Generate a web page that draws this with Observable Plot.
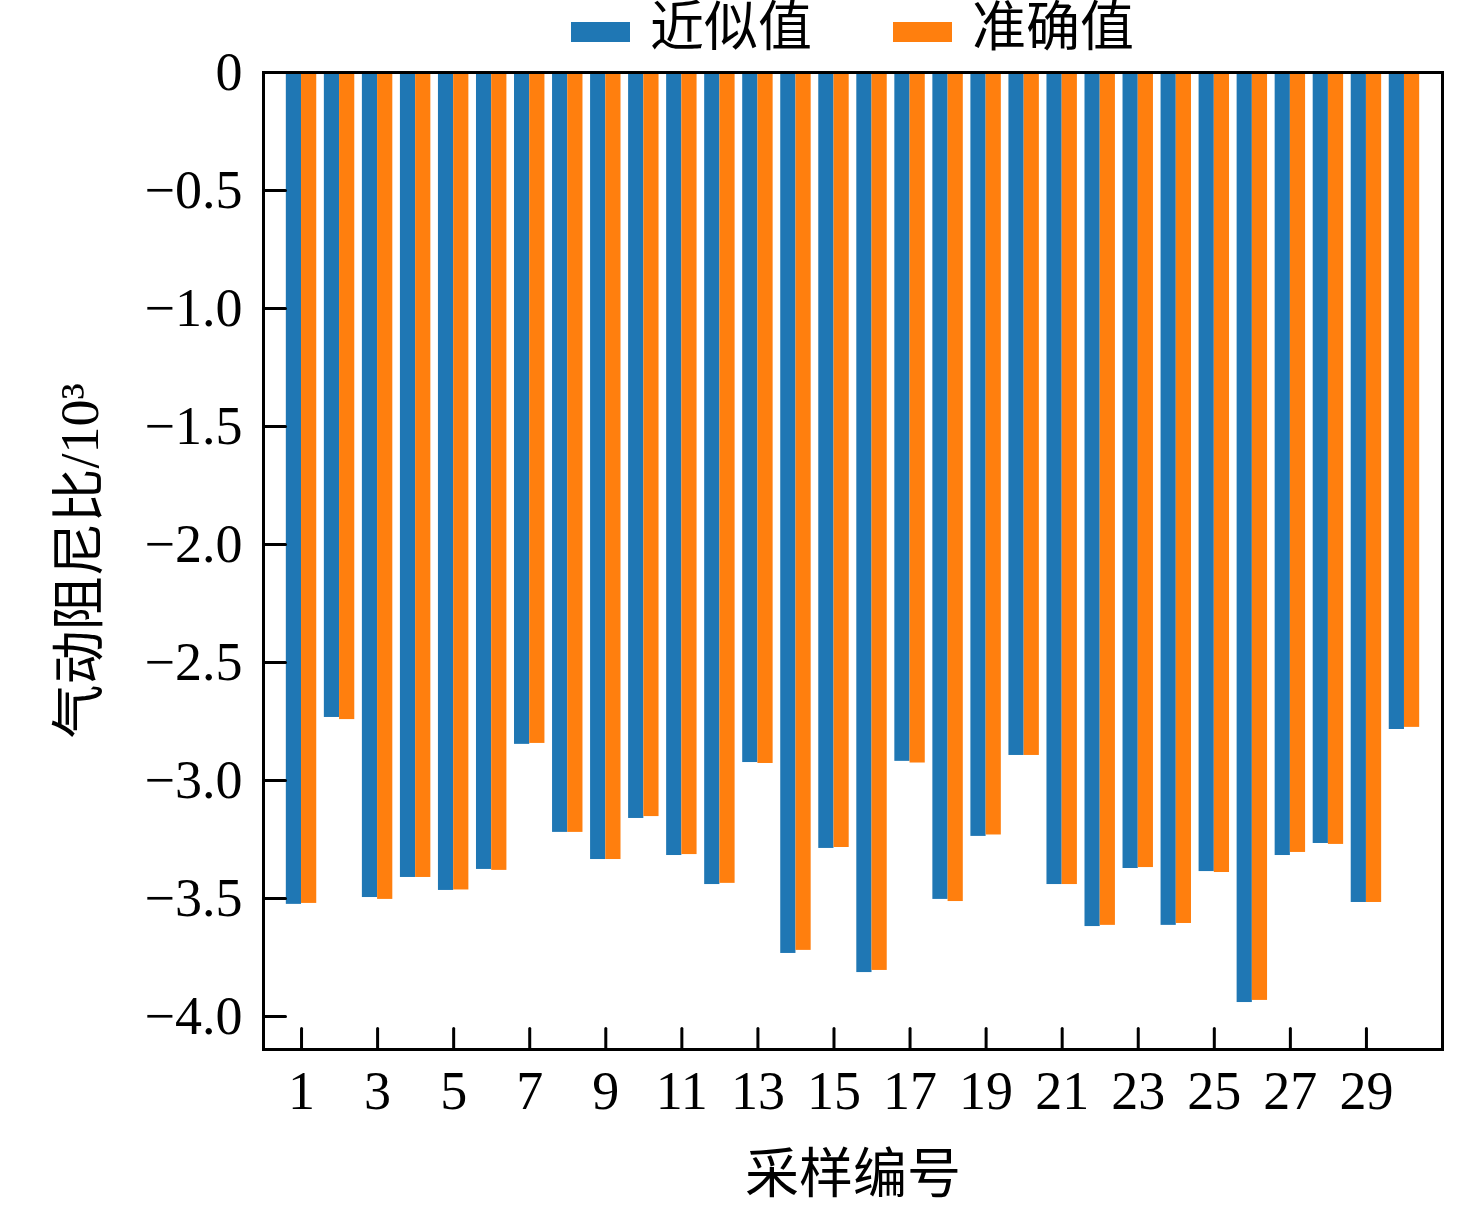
<!DOCTYPE html>
<html><head><meta charset="utf-8">
<script src="https://cdn.jsdelivr.net/npm/d3@7"></script>
<script src="https://cdn.jsdelivr.net/npm/@observablehq/plot@0.6"></script>
<style>
body{margin:0;background:#fff;}
#wrap{position:relative;width:1476px;height:1209px;}
#legend{position:absolute;left:0;top:0;width:1476px;height:60px;font-family:"Liberation Serif","Noto Sans CJK SC",serif;font-size:54px;color:#000;z-index:2;}
#chart{position:absolute;left:0;top:0;}
.sw{position:absolute;top:22px;width:59px;height:20px;}
.lt{position:absolute;top:0;line-height:56px;white-space:nowrap;}
</style></head><body>
<div id="wrap"><div id="chart"></div><div id="legend"></div></div>
<script>
const samples = [1,2,3,4,5,6,7,8,9,10,11,12,13,14,15,16,17,18,19,20,21,22,23,24,25,26,27,28,29,30];
const approxValues = [-3.525,-2.733,-3.496,-3.411,-3.466,-3.377,-2.847,-3.220,-3.335,-3.161,-3.318,-3.441,-2.924,-3.733,-3.288,-3.814,-2.919,-3.504,-3.237,-2.894,-3.441,-3.619,-3.373,-3.614,-3.386,-3.941,-3.318,-3.267,-3.517,-2.784];
const exactValues  = [-3.521,-2.742,-3.504,-3.411,-3.464,-3.381,-2.843,-3.220,-3.335,-3.153,-3.314,-3.436,-2.928,-3.720,-3.284,-3.805,-2.926,-3.513,-3.231,-2.894,-3.441,-3.614,-3.369,-3.606,-3.390,-3.932,-3.305,-3.271,-3.517,-2.775];
const seriesNames = ["近似值","准确值"];
const seriesColors = ["#1f77b4","#ff7f0e"];
const yTicks = [0,-0.5,-1.0,-1.5,-2.0,-2.5,-3.0,-3.5,-4.0];
const xTicks = [1,3,5,7,9,11,13,15,17,19,21,23,25,27,29];
const xLabel = "采样编号";
const yLabel = "气动阻尼比/10³";

const xDomain = [0, 31];
const yDomain = [-4.14, 0];
const barW = 0.4;

// legend
const legend = document.getElementById("legend");
const legendPos = [[571,650],[893,972]];
seriesNames.forEach((name,i)=>{
  const sw = document.createElement("div");
  sw.className = "sw"; sw.style.left = legendPos[i][0]+"px"; sw.style.background = seriesColors[i];
  const t = document.createElement("div");
  t.className = "lt"; t.style.left = legendPos[i][1]+"px"; t.textContent = name;
  legend.appendChild(sw); legend.appendChild(t);
});

const rows = [];
samples.forEach((s,i)=>{
  rows.push({sample:s, series:seriesNames[0], value:approxValues[i], off:-barW});
  rows.push({sample:s, series:seriesNames[1], value:exactValues[i], off:0});
});

const tickShape = {draw(ctx, l){ ctx.moveTo(0,0); ctx.lineTo(0,-l); }};
const fmt = d => d === 0 ? "0" : "\u2212" + Math.abs(d).toFixed(1);

const chart = Plot.plot({
  width: 1476, height: 1209,
  marginTop: 72, marginLeft: 263, marginRight: 34, marginBottom: 160,
  style: {fontFamily: "'Liberation Serif','Noto Sans CJK SC',serif", fontSize: "53px", background: "white", color: "black"},
  x: {domain: xDomain, axis: null},
  y: {domain: yDomain, axis: null},
  color: {domain: seriesNames, range: seriesColors},
  marks: [
    Plot.rectY(rows, {x1: d => d.sample + d.off, x2: d => d.sample + d.off + barW, y: "value", fill: "series"}),
    Plot.frame({stroke: "black", strokeWidth: 3}),
    Plot.vector(yTicks, {x: () => xDomain[0], y: d => d, length: 22, rotate: 90, anchor: "start", shape: tickShape, stroke: "black", strokeWidth: 3}),
    Plot.vector(xTicks, {x: d => d, y: () => yDomain[0], length: 21, rotate: 0, anchor: "start", shape: tickShape, stroke: "black", strokeWidth: 3}),
    Plot.axisY(yTicks, {tickSize: 0, tickPadding: 21, tickFormat: fmt, fontSize: 54, label: null}),
    Plot.axisX(xTicks, {tickSize: 0, tickPadding: 21, tickFormat: d => String(d), fontSize: 54, label: null}),
    Plot.text([xLabel], {text: d => d, frameAnchor: "bottom", dy: 126, fontSize: 54, textAnchor: "middle", lineAnchor: "middle"}),
    Plot.text([yLabel], {text: d => d, frameAnchor: "left", dx: -183, rotate: -90, fontSize: 54, textAnchor: "middle", lineAnchor: "middle"})
  ]
});
document.getElementById("chart").appendChild(chart);
</script>
</body></html>
